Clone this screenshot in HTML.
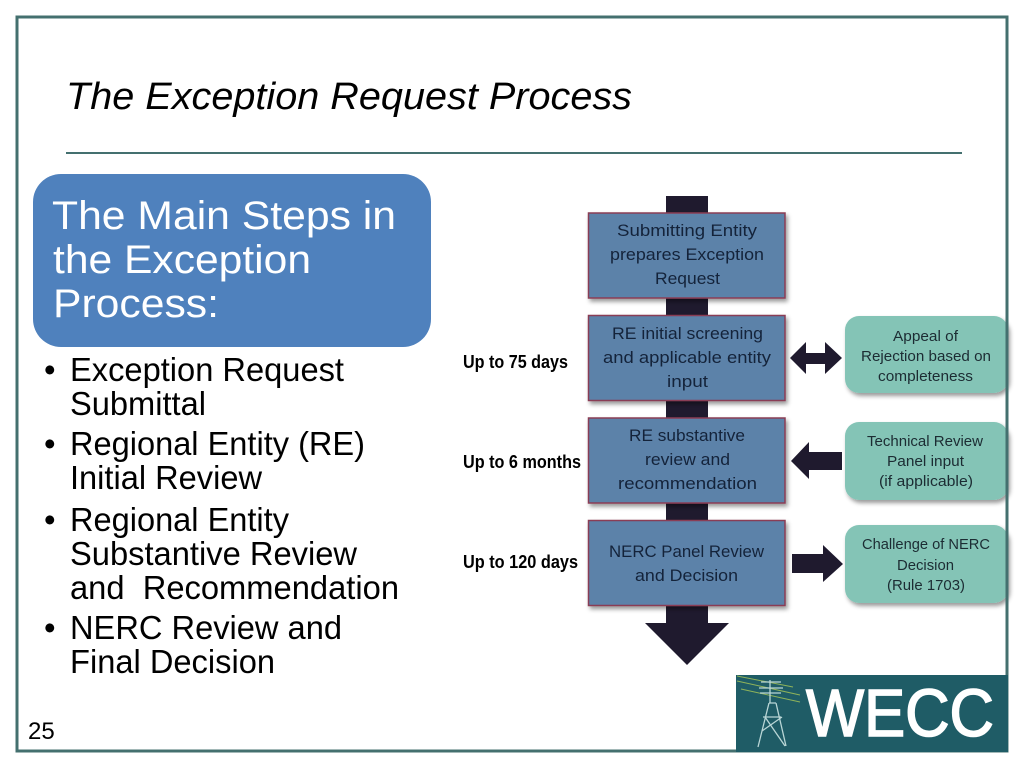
<!DOCTYPE html>
<html><head><meta charset="utf-8"><style>
html,body{margin:0;padding:0;background:#fff;width:1024px;height:768px;overflow:hidden}
svg{display:block}
text{font-family:"Liberation Sans",sans-serif}
</style></head><body>
<svg width="1024" height="768" viewBox="0 0 1024 768" xmlns="http://www.w3.org/2000/svg">
<defs>
<filter id="s" x="-10%" y="-10%" width="125%" height="130%"><feDropShadow dx="2" dy="3" stdDeviation="2" flood-color="#000" flood-opacity=".4"/></filter>
</defs>
<rect width="1024" height="768" fill="#fff"/>

<text x="66" y="109" font-size="38" font-style="italic" fill="#000" textLength="566" lengthAdjust="spacingAndGlyphs">The Exception Request Process</text>
<rect x="66" y="152" width="896" height="2" fill="#44706f"/>

<rect x="33" y="174" width="398" height="173" rx="28" fill="#4f81bd"/>
<g fill="#fff" font-size="40">
<text x="52" y="229" textLength="344" lengthAdjust="spacingAndGlyphs">The Main Steps in</text>
<text x="53" y="273" textLength="258" lengthAdjust="spacingAndGlyphs">the Exception</text>
<text x="53" y="317" textLength="166" lengthAdjust="spacingAndGlyphs">Process:</text>
</g>

<g fill="#000" font-size="33">
<text x="44" y="381">•</text><text x="70" y="381" textLength="274" lengthAdjust="spacingAndGlyphs">Exception Request</text>
<text x="70" y="415" textLength="136" lengthAdjust="spacingAndGlyphs">Submittal</text>
<text x="44" y="455">•</text><text x="70" y="455" textLength="295" lengthAdjust="spacingAndGlyphs">Regional Entity (RE)</text>
<text x="70" y="489" textLength="192" lengthAdjust="spacingAndGlyphs">Initial Review</text>
<text x="44" y="531">•</text><text x="70" y="531" textLength="219" lengthAdjust="spacingAndGlyphs">Regional Entity</text>
<text x="70" y="565" textLength="287" lengthAdjust="spacingAndGlyphs">Substantive Review</text>
<text x="70" y="599" textLength="329" lengthAdjust="spacingAndGlyphs" xml:space="preserve">and  Recommendation</text>
<text x="44" y="639">•</text><text x="70" y="639" textLength="272" lengthAdjust="spacingAndGlyphs">NERC Review and</text>
<text x="70" y="673" textLength="205" lengthAdjust="spacingAndGlyphs">Final Decision</text>
</g>
<text x="28" y="739" font-size="24" fill="#000">25</text>

<g fill="#000" font-size="18" font-weight="bold">
<text x="463" y="368" textLength="105" lengthAdjust="spacingAndGlyphs">Up to 75 days</text>
<text x="463" y="468" textLength="118" lengthAdjust="spacingAndGlyphs">Up to 6 months</text>
<text x="463" y="568" textLength="115" lengthAdjust="spacingAndGlyphs">Up to 120 days</text>
</g>

<path d="M666 196H708V623H729L687 665L645 623H666Z" fill="#1f1a2e"/>

<g fill="#5b82a9" stroke="#8a3d55" stroke-width="1.5" filter="url(#s)">
<rect x="588.5" y="213" width="196.5" height="85"/>
<rect x="588.5" y="315.5" width="196.5" height="85"/>
<rect x="588.5" y="418" width="196.5" height="85"/>
<rect x="588.5" y="520.5" width="196.5" height="85"/>
</g>
<g fill="#14233a" font-size="17">
<text x="617" y="236" textLength="140" lengthAdjust="spacingAndGlyphs">Submitting Entity</text>
<text x="610" y="260" textLength="154" lengthAdjust="spacingAndGlyphs">prepares Exception</text>
<text x="655" y="284" textLength="65" lengthAdjust="spacingAndGlyphs">Request</text>
<text x="612" y="339" textLength="151" lengthAdjust="spacingAndGlyphs">RE initial screening</text>
<text x="603" y="363" textLength="168" lengthAdjust="spacingAndGlyphs">and applicable entity</text>
<text x="667" y="387" textLength="41" lengthAdjust="spacingAndGlyphs">input</text>
<text x="629" y="441" textLength="116" lengthAdjust="spacingAndGlyphs">RE substantive</text>
<text x="645" y="465" textLength="85" lengthAdjust="spacingAndGlyphs">review and</text>
<text x="618" y="489" textLength="139" lengthAdjust="spacingAndGlyphs">recommendation</text>
<text x="609" y="557" textLength="155" lengthAdjust="spacingAndGlyphs">NERC Panel Review</text>
<text x="635" y="581" textLength="103" lengthAdjust="spacingAndGlyphs">and Decision</text>
</g>

<g fill="#1f1a2e">
<path d="M790 358L806 342V353H825V342L842 358L825 374V364H806V374Z"/>
<path d="M791 461L809 442V452H842V470H809V479Z"/>
<path d="M792 554H823V545L843 564L823 582V573H792Z"/>
</g>

<g fill="#84c4b6" filter="url(#s)">
<rect x="845" y="316" width="163" height="77" rx="14"/>
<rect x="845" y="422" width="163" height="78" rx="14"/>
<rect x="845" y="525" width="163" height="78" rx="14"/>
</g>
<g fill="#1c2c33" font-size="15">
<text x="893" y="341" textLength="65" lengthAdjust="spacingAndGlyphs">Appeal of</text>
<text x="861" y="361" textLength="130" lengthAdjust="spacingAndGlyphs">Rejection based on</text>
<text x="878" y="381" textLength="95" lengthAdjust="spacingAndGlyphs">completeness</text>
<text x="867" y="446" textLength="116" lengthAdjust="spacingAndGlyphs">Technical Review</text>
<text x="887" y="466" textLength="77" lengthAdjust="spacingAndGlyphs">Panel input</text>
<text x="879" y="486" textLength="94" lengthAdjust="spacingAndGlyphs">(if applicable)</text>
<text x="862" y="549" textLength="128" lengthAdjust="spacingAndGlyphs">Challenge of NERC</text>
<text x="897" y="570" textLength="57" lengthAdjust="spacingAndGlyphs">Decision</text>
<text x="887" y="590" textLength="78" lengthAdjust="spacingAndGlyphs">(Rule 1703)</text>
</g>

<rect x="17" y="17" width="990" height="734" fill="none" stroke="#44706f" stroke-width="3"/>

<rect x="736" y="675" width="272" height="77" fill="#1f5c66"/>
<g fill="none" stroke="#8fb35a" stroke-width="1">
<path d="M737 676L793 687M737 681L800 695M741 689L800 702"/>
</g>
<g fill="none" stroke="#b9d6d6" stroke-width="1.3">
<path d="M758 747L769 703M786 746L776 703M769 703H776M762 731L782 717M765 717L785 746M763 717H781"/>
<path d="M761 682H781M759 688H783M760 693H781M770 680V703"/>
</g>
<text x="806" y="736" font-size="67" fill="#fff" stroke="#fff" stroke-width="1.6" textLength="188" lengthAdjust="spacingAndGlyphs">WECC</text>
</svg>
</body></html>
